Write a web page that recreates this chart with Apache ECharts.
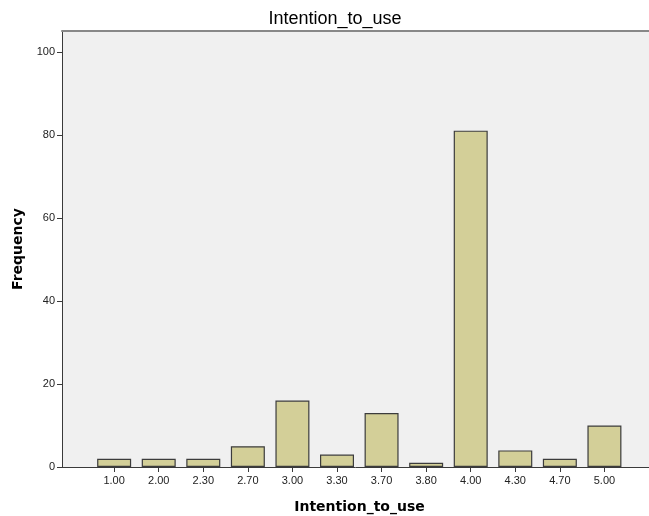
<!DOCTYPE html>
<html>
<head>
<meta charset="utf-8">
<script src="https://cdn.jsdelivr.net/npm/echarts@6/dist/echarts.min.js"></script>
<style>
  html, body { margin: 0; padding: 0; background: #fff; }
  #chart { width: 649px; height: 516px; }
</style>
</head>
<body>
<div id="chart"></div>
<script>
// 类别与频数
const categories = ['1.00', '2.00', '2.30', '2.70', '3.00', '3.30', '3.70', '3.80', '4.00', '4.30', '4.70', '5.00'];
const frequency = [2, 2, 2, 5, 16, 3, 13, 1, 81, 4, 2, 10];
const yTicks = [0, 20, 40, 60, 80, 100];

const positions = categories.map((c, i) => i);
const chart = echarts.init(document.getElementById('chart'));

chart.setOption({
    animation: false,
    title: {
        text: 'Intention_to_use',
        left: 330,
        top: 5,
        textAlign: 'center',
        textStyle: { fontFamily: 'Liberation Sans', fontSize: 18, fontWeight: 'normal', color: '#000' }
    },
    grid: {
        left: 62, top: 31, right: 0, bottom: 49,
        outerBoundsMode: 'none',
        show: true, backgroundColor: '#f0f0f0', borderWidth: 0
    },
    xAxis: [{
        type: 'value',
        min: -1.17,
        max: 12,
        name: 'Intention_to_use',
        nameLocation: 'middle',
        nameGap: 33,
        nameTextStyle: { fontFamily: 'DejaVu Sans', fontSize: 14, fontWeight: 'bold', color: '#000', padding: [0, 0, 0, 8] },
        splitLine: { show: false },
        axisLine: { onZero: false, lineStyle: { color: '#3a3a3a', width: 1 } },
        axisTick: { customValues: positions, length: 5, lineStyle: { color: '#3a3a3a' } },
        axisLabel: {
            customValues: positions,
            formatter: v => categories[Math.round(v)],
            fontFamily: 'Liberation Sans', fontSize: 11, color: '#222', margin: 8
        }
    }, {
        type: 'value',
        position: 'top',
        min: -1.17,
        max: 12,
        splitLine: { show: false },
        axisLine: { onZero: false, lineStyle: { color: '#888', width: 2 } },
        axisTick: { show: false },
        axisLabel: { show: false }
    }],
    yAxis: {
        type: 'value',
        min: 0,
        max: 105,
        name: 'Frequency',
        nameLocation: 'middle',
        nameGap: 37,
        nameTextStyle: { fontFamily: 'DejaVu Sans', fontSize: 14, fontWeight: 'bold', color: '#000' },
        splitLine: { show: false },
        axisLine: { show: true, onZero: false, lineStyle: { color: '#3a3a3a', width: 1 } },
        axisTick: { show: true, customValues: yTicks, length: 5, lineStyle: { color: '#3a3a3a' } },
        axisLabel: {
            customValues: yTicks,
            fontFamily: 'Liberation Sans', fontSize: 11, color: '#222', margin: 7
        }
    },
    series: [{
        type: 'bar',
        data: frequency.map((v, i) => [i, v]),
        barWidth: 34,
        itemStyle: { color: '#d3cf98', borderColor: '#3c3c3c', borderWidth: 1.2 }
    }]
});
</script>
</body>
</html>
